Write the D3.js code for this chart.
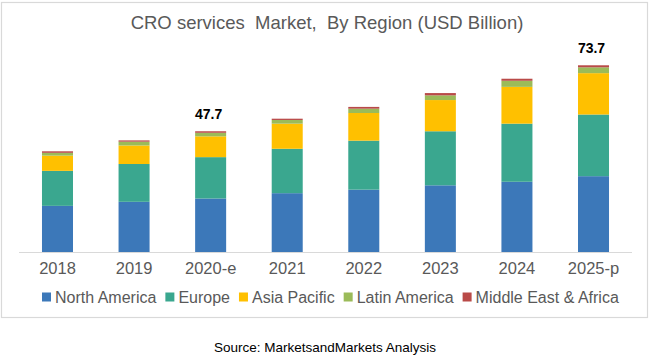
<!DOCTYPE html>
<html><head><meta charset="utf-8">
<script src="https://cdn.jsdelivr.net/npm/d3@7"></script>
<style>body{margin:0;background:#fff}svg{display:block}</style>
</head><body>
<svg id="c" width="650" height="358"></svg>
<script>
const years = ["2018","2019","2020-e","2021","2022","2023","2024","2025-p"];
const regions = ["North America","Europe","Asia Pacific","Latin America","Middle East & Africa"];
const northAmerica = [18.3, 19.9, 21.2, 23.3, 24.7, 26.4, 27.8, 30.0];
const europe       = [13.8, 14.9, 16.3, 17.5, 19.3, 21.3, 22.9, 24.3];
const asiaPacific  = [6.0, 7.3, 8.2, 9.9, 10.9, 12.3, 14.5, 16.3];
const latinAmerica = [1.1, 1.5, 1.4, 1.45, 1.7, 1.85, 2.4, 2.3];
const mea          = [0.6, 0.5, 0.6, 0.5, 0.7, 0.9, 0.8, 0.8];
const totalLabels  = [null, null, "47.7", null, null, null, null, "73.7"];
const colors = ["#3c78b9","#3aa78f","#ffc000","#9bbb59","#b94a48"];

const series = [northAmerica, europe, asiaPacific, latinAmerica, mea];
const table = years.map((y,i)=>{const o={year:y}; regions.forEach((r,k)=>o[r]=series[k][i]); return o;});
const stack = d3.stack().keys(regions)(table);

const svg = d3.select("#c");
svg.append("rect").attr("x",1.5).attr("y",2.5).attr("width",646).attr("height",315)
  .attr("fill","#fff").attr("stroke","#d9d9d9").attr("stroke-width",1.2);

const x = d3.scaleBand().domain(years).range([19.2, 631.8]).paddingInner(0.595).paddingOuter(0.2975);
const y = d3.scaleLinear().domain([0,80]).range([252.3, 49.3]);

svg.append("text").attr("x",327).attr("y",29).attr("text-anchor","middle")
  .attr("font-family","Liberation Sans, Arial, sans-serif").attr("font-size",18.5).attr("fill","#595959")
  .text("CRO services\u00a0 Market,\u00a0 By Region (USD Billion)");

svg.append("g").selectAll("g").data(stack).join("g").attr("fill",(d,i)=>colors[i])
  .selectAll("rect").data(d=>d).join("rect")
  .attr("x",d=>x(d.data.year)).attr("width",x.bandwidth())
  .attr("y",d=>y(d[1])).attr("height",d=>y(d[0])-y(d[1]));

svg.append("line").attr("x1",19).attr("x2",632).attr("y1",252.5).attr("y2",252.5)
  .attr("stroke","#d9d9d9").attr("stroke-width",1);

const ax = svg.append("g").attr("transform","translate(0,252.5)")
  .call(d3.axisBottom(x).tickSize(0).tickPadding(10));
ax.select(".domain").remove();
ax.selectAll("text").attr("font-family","Liberation Sans, Arial, sans-serif").attr("font-size",16.5).attr("fill","#595959");

const totals = years.map((yr,i)=>series.reduce((s,a)=>s+a[i],0));
svg.append("g").selectAll("text").data(years.map((yr,i)=>({yr,t:totals[i],l:totalLabels[i]})).filter(d=>d.l))
  .join("text").attr("x",d=>x(d.yr)+x.bandwidth()/2-2).attr("y",d=>y(d.t)-12)
  .attr("text-anchor","middle").attr("font-family","Liberation Sans, Arial, sans-serif")
  .attr("font-weight","bold").attr("font-size",14).attr("fill","#000").text(d=>d.l);

// legend
const lg = svg.append("g").attr("transform","translate(42,297)");
let cx = 0;
regions.forEach((r,i)=>{
  lg.append("rect").attr("x",cx).attr("y",-4.5).attr("width",9).attr("height",9).attr("fill",colors[i]);
  const t = lg.append("text").attr("x",cx+13).attr("y",5.5).attr("font-family","Liberation Sans, Arial, sans-serif")
    .attr("font-size",16).attr("fill","#595959").text(r);
  cx += 13 + t.node().getComputedTextLength() + 9;
});

svg.append("text").attr("x",325).attr("y",352).attr("text-anchor","middle")
  .attr("font-family","Liberation Sans, Arial, sans-serif").attr("font-size",13.5).attr("fill","#000")
  .text("Source: MarketsandMarkets Analysis");
</script>
</body></html>
